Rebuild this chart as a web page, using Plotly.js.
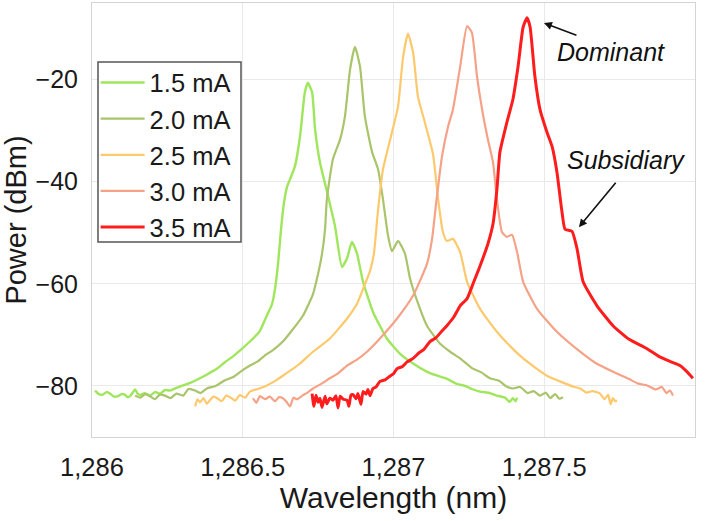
<!DOCTYPE html>
<html>
<head>
<meta charset="utf-8">
<script src="https://cdn.plot.ly/plotly-3.0.1.min.js"></script>
<style>html,body{margin:0;padding:0;background:#fff;}#chart{width:724px;height:521px;}</style>
</head>
<body>
<div id="chart"></div>
<script>
// ---- data ----
const seriesNames = ["1.5 mA", "2.0 mA", "2.5 mA", "3.0 mA", "3.5 mA"];

const x15 = [1286.010,1286.023,1286.036,1286.048,1286.060,1286.073,1286.086,1286.098,1286.109,1286.118,1286.126,1286.135,1286.143,1286.151,1286.159,1286.175,1286.192,1286.209,1286.226,1286.242,1286.259,1286.280,1286.302,1286.330,1286.358,1286.386,1286.415,1286.440,1286.468,1286.496,1286.524,1286.557,1286.580,1286.597,1286.607,1286.617,1286.627,1286.637,1286.647,1286.657,1286.673,1286.690,1286.706,1286.716,1286.730,1286.740,1286.756,1286.783,1286.806,1286.829,1286.846,1286.862,1286.879,1286.899,1286.932,1286.978,1287.022,1287.065,1287.121,1287.177,1287.210,1287.237,1287.260,1287.287,1287.320,1287.343,1287.370,1287.385,1287.396,1287.405,1287.410];
const y15 = [-80.9,-81.6,-81.7,-81.2,-81.5,-82.1,-82.0,-81.6,-81.7,-82.2,-82.0,-81.3,-80.7,-81.5,-81.8,-81.4,-81.9,-81.2,-81.5,-80.8,-80.9,-80.4,-79.9,-79.3,-78.5,-77.6,-76.6,-75.4,-74.2,-72.8,-71.3,-69.2,-66.2,-64.0,-61.0,-56.1,-49.3,-44.0,-41.0,-39.5,-37.0,-31.1,-22.5,-20.6,-22.5,-29.8,-36.2,-42.8,-48.7,-56.7,-55.0,-51.8,-54.1,-59.6,-65.5,-70.7,-73.7,-75.6,-77.5,-78.6,-79.6,-80.0,-80.6,-81.1,-81.4,-81.9,-82.3,-83.1,-82.4,-83.0,-82.3];

const x20 = [1286.143,1286.160,1286.176,1286.192,1286.209,1286.225,1286.242,1286.260,1286.280,1286.302,1286.320,1286.342,1286.360,1286.381,1286.410,1286.441,1286.470,1286.500,1286.524,1286.550,1286.574,1286.600,1286.633,1286.665,1286.700,1286.733,1286.750,1286.763,1286.773,1286.779,1286.799,1286.823,1286.839,1286.856,1286.872,1286.889,1286.905,1286.929,1286.949,1286.965,1286.982,1286.995,1287.015,1287.038,1287.055,1287.088,1287.111,1287.154,1287.190,1287.221,1287.260,1287.290,1287.320,1287.350,1287.375,1287.396,1287.420,1287.445,1287.465,1287.486,1287.505,1287.520,1287.536,1287.550,1287.562];
const y20 = [-81.9,-82.3,-81.6,-82.0,-82.6,-81.7,-81.9,-82.4,-81.5,-81.9,-80.6,-80.9,-81.4,-80.5,-80.0,-78.9,-78.2,-76.9,-76.0,-75.2,-74.0,-73.0,-71.3,-69.0,-66.2,-62.0,-58.0,-54.1,-49.3,-43.4,-35.6,-31.7,-27.2,-18.0,-13.6,-17.5,-27.2,-34.2,-37.6,-43.4,-50.6,-53.6,-51.6,-54.1,-59.0,-64.9,-68.2,-71.7,-73.4,-74.6,-76.5,-77.3,-78.5,-79.0,-80.1,-80.5,-80.2,-81.4,-81.0,-81.9,-81.3,-82.4,-81.6,-82.5,-82.2];

const x25 = [1286.342,1286.350,1286.358,1286.370,1286.381,1286.391,1286.403,1286.415,1286.430,1286.445,1286.458,1286.475,1286.490,1286.508,1286.524,1286.550,1286.580,1286.610,1286.633,1286.660,1286.690,1286.733,1286.789,1286.846,1286.879,1286.899,1286.922,1286.935,1286.949,1286.965,1286.995,1287.015,1287.032,1287.048,1287.065,1287.081,1287.104,1287.131,1287.148,1287.164,1287.177,1287.197,1287.221,1287.244,1287.287,1287.343,1287.390,1287.430,1287.470,1287.509,1287.560,1287.600,1287.619,1287.640,1287.660,1287.685,1287.700,1287.712,1287.720,1287.728,1287.735,1287.741];
const y25 = [-84.0,-82.6,-83.2,-82.4,-83.5,-82.8,-82.1,-82.4,-83.0,-81.9,-82.2,-82.9,-81.8,-82.3,-81.1,-80.6,-79.9,-78.9,-78.0,-76.9,-75.6,-73.3,-70.7,-66.8,-63.9,-61.0,-57.5,-54.1,-45.4,-37.6,-30.3,-25.3,-15.5,-11.0,-14.7,-23.3,-28.4,-34.6,-43.4,-49.9,-51.6,-51.2,-53.8,-59.6,-64.9,-69.4,-72.4,-74.6,-76.4,-78.0,-79.3,-80.2,-80.5,-81.3,-81.0,-81.5,-82.6,-81.7,-83.6,-82.4,-83.0,-82.8];

const x30 = [1286.534,1286.545,1286.557,1286.574,1286.590,1286.607,1286.620,1286.633,1286.645,1286.657,1286.668,1286.680,1286.700,1286.715,1286.733,1286.760,1286.789,1286.815,1286.846,1286.880,1286.912,1286.955,1287.012,1287.065,1287.111,1287.128,1287.141,1287.151,1287.161,1287.181,1287.197,1287.221,1287.244,1287.260,1287.277,1287.294,1287.313,1287.330,1287.343,1287.360,1287.376,1287.393,1287.410,1287.430,1287.476,1287.542,1287.619,1287.670,1287.728,1287.780,1287.810,1287.841,1287.870,1287.890,1287.905,1287.917,1287.927];
const y30 = [-82.4,-83.3,-82.0,-82.6,-82.1,-83.0,-82.2,-82.4,-83.1,-84.0,-82.3,-82.6,-81.8,-81.3,-80.5,-79.6,-78.5,-77.6,-76.0,-74.8,-73.3,-70.7,-66.8,-62.3,-56.1,-51.2,-44.4,-39.5,-35.0,-29.2,-25.9,-17.5,-9.5,-10.8,-19.4,-25.9,-31.7,-36.2,-43.4,-49.9,-50.8,-50.4,-53.8,-59.6,-64.9,-69.4,-73.3,-75.5,-77.2,-78.6,-79.5,-79.9,-80.7,-80.2,-81.4,-80.9,-81.9];

const x35 = [1286.730,1286.736,1286.743,1286.750,1286.756,1286.763,1286.773,1286.779,1286.789,1286.799,1286.809,1286.816,1286.823,1286.833,1286.846,1286.852,1286.859,1286.866,1286.876,1286.882,1286.892,1286.899,1286.909,1286.915,1286.922,1286.932,1286.942,1286.955,1286.972,1286.988,1287.000,1287.012,1287.030,1287.045,1287.065,1287.085,1287.100,1287.121,1287.140,1287.160,1287.177,1287.200,1287.221,1287.244,1287.265,1287.287,1287.313,1287.330,1287.343,1287.353,1287.376,1287.396,1287.413,1287.430,1287.443,1287.453,1287.469,1287.486,1287.509,1287.526,1287.542,1287.559,1287.569,1287.592,1287.609,1287.629,1287.675,1287.728,1287.780,1287.841,1287.880,1287.917,1287.950,1287.973,1287.993];
const y35 = [-81.5,-84.0,-81.8,-83.2,-82.4,-84.2,-82.0,-83.5,-82.4,-82.8,-81.9,-84.3,-82.0,-82.6,-82.8,-84.0,-81.8,-81.7,-82.5,-81.5,-83.6,-81.1,-81.6,-80.7,-81.9,-80.5,-80.2,-79.1,-78.8,-78.1,-77.6,-76.6,-76.2,-75.3,-74.6,-73.5,-72.9,-71.3,-70.6,-69.3,-68.2,-66.5,-64.3,-62.9,-59.8,-56.5,-52.2,-48.3,-41.5,-34.2,-28.4,-23.9,-17.5,-9.7,-7.9,-9.7,-19.4,-25.9,-30.3,-33.1,-38.1,-46.0,-49.3,-49.7,-53.2,-59.6,-64.3,-68.2,-70.8,-72.7,-74.2,-75.2,-76.0,-77.2,-78.5];

const xTickVals = [1286, 1286.5, 1287, 1287.5, 1288];
const xTickText = ["1,286", "1,286.5", "1,287", "1,287.5", "1,288"];
const yTickVals = [-80, -60, -40, -20];
const yTickText = ["\u221280", "\u221260", "\u221240", "\u221220"];

// ---- styling ----
const colors = ["#9fe65c", "#a9c46a", "#fdc96c", "#f5a287", "#ff1c1c"];
const widths = [2.4, 2.2, 2.2, 2.2, 3.0];
const xs = [x15, x20, x25, x30, x35];
const ys = [y15, y20, y25, y30, y35];

const traces = seriesNames.map((name, i) => ({
  type: "scatter",
  mode: "lines",
  name: name,
  x: xs[i],
  y: ys[i],
  line: { color: colors[i], width: widths[i], shape: "spline", smoothing: 0.5 }
}));

const FONT = "Liberation Sans, Arial, sans-serif";

const layout = {
  width: 724,
  height: 521,
  margin: { l: 92, r: 29, t: 3, b: 84 },
  paper_bgcolor: "#ffffff",
  plot_bgcolor: "#ffffff",
  font: { family: FONT, color: "#1a1a1a" },
  showlegend: true,
  legend: {
    x: 0.006, y: 0.87, xanchor: "left", yanchor: "top",
    bgcolor: "rgba(0,0,0,0)",
    borderwidth: 0,
    itemwidth: 44,
    font: { family: FONT, size: 25.5, color: "#1a1a1a" },
    tracegroupgap: 0
  },
  shapes: [
    { type: "rect", xref: "paper", yref: "paper", x0: 0.00995, x1: 0.2471, y0: 0.4493, y1: 0.8641,
      fillcolor: "#ffffff", line: { color: "#555555", width: 1.5 }, layer: "above" }
  ],
  xaxis: {
    range: [1286, 1288],
    tickvals: xTickVals,
    ticktext: xTickText,
    tickfont: { family: FONT, size: 25.5, color: "#1a1a1a" },
    ticks: "outside", ticklen: 7, tickcolor: "rgba(0,0,0,0)",
    showgrid: true, gridcolor: "#e9e9e9", gridwidth: 1,
    showline: true, linecolor: "#d4d4d4", linewidth: 1, mirror: true,
    zeroline: false,
    title: { text: "Wavelength (nm)", font: { family: FONT, size: 30, color: "#1a1a1a" }, standoff: 6 }
  },
  yaxis: {
    range: [-90, -5],
    tickvals: yTickVals,
    ticktext: yTickText,
    tickfont: { family: FONT, size: 25, color: "#1a1a1a" },
    ticks: "outside", ticklen: 8, tickcolor: "rgba(0,0,0,0)",
    showgrid: true, gridcolor: "#e9e9e9", gridwidth: 1,
    showline: true, linecolor: "#d4d4d4", linewidth: 1, mirror: true,
    zeroline: false,
    title: { text: "Power (dBm)", font: { family: FONT, size: 29, color: "#1a1a1a" }, standoff: 4 }
  },
  annotations: [
    { x: 1287.499, y: -8.9, xref: "x", yref: "y", text: "", showarrow: true,
      ax: 34, ay: 13, arrowhead: 2, arrowsize: 1, arrowwidth: 1.6, arrowcolor: "#111" },
    { x: 1287.615, y: -48.9, xref: "x", yref: "y", text: "", showarrow: true,
      ax: 38, ay: -46, arrowhead: 2, arrowsize: 1, arrowwidth: 1.6, arrowcolor: "#111" },
    { x: 1287.721, y: -14.5, xref: "x", yref: "y", text: "<i>Dominant</i>", showarrow: false,
      font: { family: FONT, size: 25, color: "#111" } },
    { x: 1287.771, y: -35.8, xref: "x", yref: "y", text: "<i>Subsidiary</i>", showarrow: false,
      font: { family: FONT, size: 25, color: "#111" } }
  ]
};

Plotly.newPlot("chart", traces, layout, { displayModeBar: false, staticPlot: true });
</script>
</body>
</html>
